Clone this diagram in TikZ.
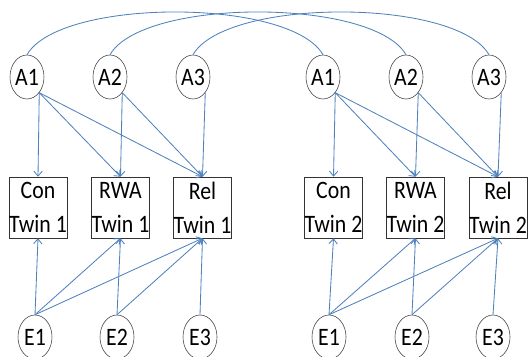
\documentclass[tikz,border=0pt]{standalone}
\usepackage{fontspec}
\usepackage{graphicx}
\setmainfont{Carlito}
\usetikzlibrary{arrows.meta,shapes.geometric}
\definecolor{linkblue}{RGB}{79,129,189}
\newcommand{\tall}[1]{\scalebox{1}[1.15]{#1}}
\tikzset{>={Straight Barb[length=3.5pt,width=6pt]},
	latent/.style={ellipse,draw=black!75,thin,minimum width=0.85cm,minimum height=1.1cm,inner sep=0pt,font=\fontsize{15.5}{18}\selectfont},
	measured/.style={rectangle,draw=black!80,thin,minimum width=1.4cm,minimum height=1.525cm,inner sep=0pt,align=center,font=\fontsize{15.5}{24}\selectfont},
	link/.style={linkblue,line width=0.6pt},
}
\begin{document}
\begin{tikzpicture}[x=0.025cm,y=0.025cm]
			\useasboundingbox (0,0) rectangle (531,356);
			% additive genetic factors
			\node[latent] (A1a) at (27,279) {\tall{A1}};
			\node[latent] (A2a) at (110,279) {\tall{A2}};
			\node[latent] (A3a) at (193,279) {\tall{A3}};
			\node[latent] (A1b) at (323,279) {\tall{A1}};
			\node[latent] (A2b) at (406,279) {\tall{A2}};
			\node[latent] (A3b) at (489,279) {\tall{A3}};
			% observed scores
			\node[measured] (Con1) at (38,148.5) {\tall{Con}\\\tall{Twin 1}};
			\node[measured] (RWA1) at (120.5,148.5) {\tall{RWA}\\\tall{Twin 1}};
			\node[measured] (Rel1) at (202.5,148.5) {\tall{Rel}\\\tall{Twin 1}};
			\node[measured] (Con2) at (333.5,148.5) {\tall{Con}\\\tall{Twin 2}};
			\node[measured] (RWA2) at (415.5,148.5) {\tall{RWA}\\\tall{Twin 2}};
			\node[measured] (Rel2) at (498,148.5) {\tall{Rel}\\\tall{Twin 2}};
			% unique environment
			\node[latent] (E1a) at (35,19) {\tall{E1}};
			\node[latent] (E2a) at (117,19) {\tall{E2}};
			\node[latent] (E3a) at (200,19) {\tall{E3}};
			\node[latent] (E1b) at (329,19) {\tall{E1}};
			\node[latent] (E2b) at (412,19) {\tall{E2}};
			\node[latent] (E3b) at (493,19) {\tall{E3}};
			\draw[link] (A1a.north) to[out=60,in=120,looseness=0.57] (A1b.north);
			\draw[link] (A2a.north) to[out=60,in=120,looseness=0.57] (A2b.north);
			\draw[link] (A3a.north) to[out=60,in=120,looseness=0.57] (A3b.north);
			\draw[link,->] (A1a.-52)--(Con1.north);
			\draw[link,->] (A1a.-52)--(RWA1.north);
			\draw[link,->] (A1a.-52)--(Rel1.north);
			\draw[link,->] (A2a.-52)--(RWA1.north);
			\draw[link,->] (A2a.-52)--(Rel1.north);
			\draw[link,->] (A3a.-52)--(Rel1.north);
			\draw[link,->] (A1b.-52)--(Con2.north);
			\draw[link,->] (A1b.-52)--(RWA2.north);
			\draw[link,->] (A1b.-52)--(Rel2.north);
			\draw[link,->] (A2b.-52)--(RWA2.north);
			\draw[link,->] (A2b.-52)--(Rel2.north);
			\draw[link,->] (A3b.-52)--(Rel2.north);
			\draw[link,->] (E1a.north)--(Con1.south);
			\draw[link,->] (E1a.north)--(RWA1.south);
			\draw[link,->] (E1a.north)--(Rel1.south);
			\draw[link,->] (E2a.north)--(RWA1.south);
			\draw[link,->] (E2a.north)--(Rel1.south);
			\draw[link,->] (E3a.north)--(Rel1.south);
			\draw[link,->] (E1b.north)--(Con2.south);
			\draw[link,->] (E1b.north)--(RWA2.south);
			\draw[link,->] (E1b.north)--(Rel2.south);
			\draw[link,->] (E2b.north)--(RWA2.south);
			\draw[link,->] (E2b.north)--(Rel2.south);
			\draw[link,->] (E3b.north)--(Rel2.south);
		\end{tikzpicture}
\end{document}
